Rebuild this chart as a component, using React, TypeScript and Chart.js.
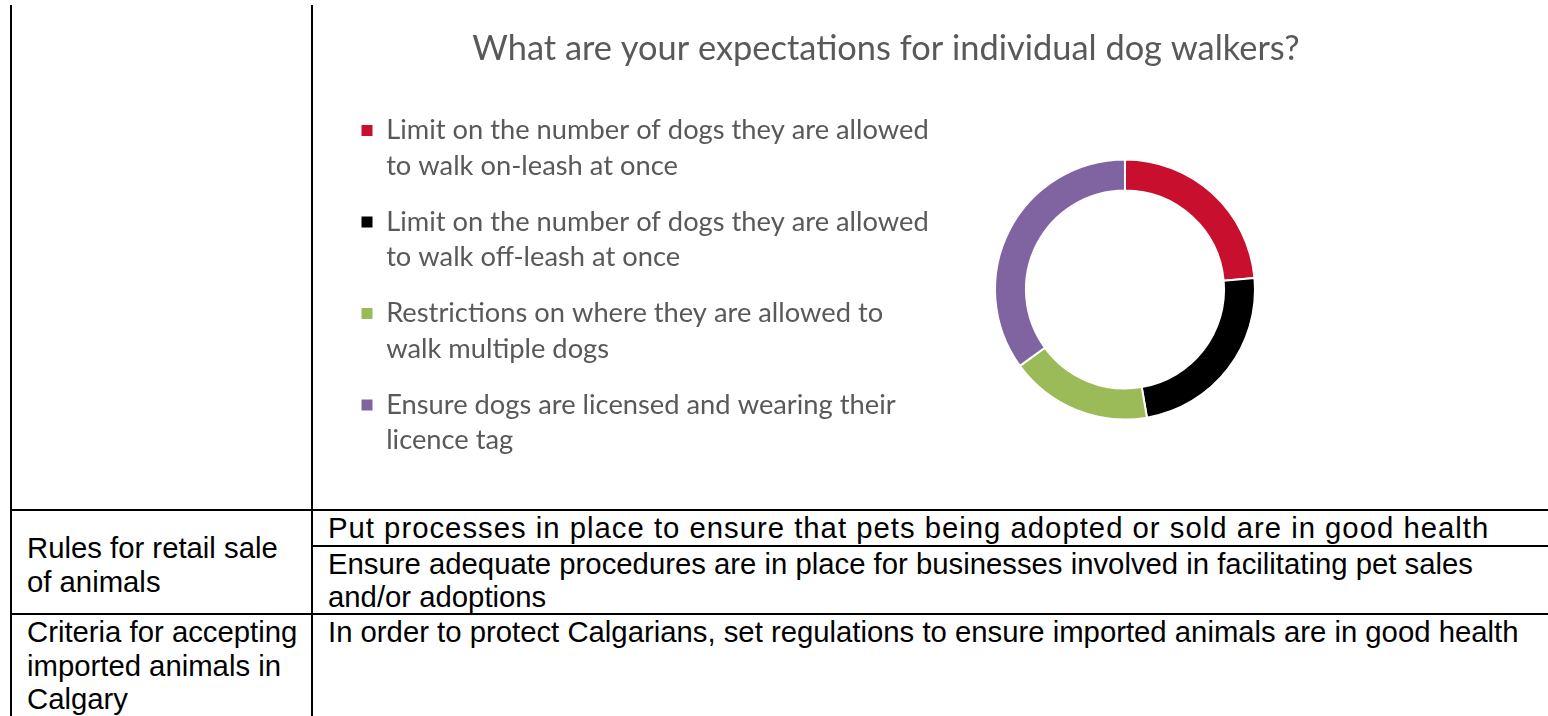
import React, { useEffect, useRef } from 'react';
import { Chart, registerables } from 'chart.js';

Chart.register(...registerables);

// ---------- chart data ----------
const TITLE = 'What are your expectations for individual dog walkers?';
const CATEGORIES: string[][] = [
  ['Limit on the number of dogs they are allowed', 'to walk on-leash at once'],
  ['Limit on the number of dogs they are allowed', 'to walk off-leash at once'],
  ['Restrictions on where they are allowed to', 'walk multiple dogs'],
  ['Ensure dogs are licensed and wearing their', 'licence tag'],
];
const VALUES: number[] = [23.6, 23.7, 17.7, 35.0];
const COLORS: string[] = ['#C8102E', '#000000', '#9BBB59', '#8064A2'];
const TEXT_GREY = '#595959';

// ---------- surrounding table text ----------
const LEFT_CELLS: string[][] = [
  ['Rules for retail sale', 'of animals'],
  ['Criteria for accepting', 'imported animals in', 'Calgary'],
];
const RIGHT_CELLS: string[][] = [
  ['Put processes in place to ensure that pets being adopted or sold are in good health'],
  ['Ensure adequate procedures are in place for businesses involved in facilitating pet sales', 'and/or adoptions'],
  ['In order to protect Calgarians, set regulations to ensure imported animals are in good health'],
];

const CHART_FONT = 'Lato';
const TABLE_FONT = '"Liberation Sans", Arial, sans-serif';

function measure(text: string, family: string, size: number): number {
  const c = document.createElement('canvas').getContext('2d')!;
  c.font = `${size}px ${family}`;
  return c.measureText(text).width;
}

function fitSize(text: string, family: string, target: number): number {
  return Math.round(((100 * target) / measure(text, family, 100)) * 10) / 10;
}

const line = (left: number, top: number, width: number, height: number): React.CSSProperties => ({
  position: 'absolute', left, top, width, height, background: '#000',
});

const textStyle = (left: number, top: number, extra: React.CSSProperties = {}): React.CSSProperties => ({
  position: 'absolute', left, top, fontFamily: TABLE_FONT, fontSize: 29.3, lineHeight: '33.5px',
  color: '#000', whiteSpace: 'pre', ...extra,
});

export default function App() {
  const ref = useRef<HTMLCanvasElement>(null);

  useEffect(() => {
    const canvas = ref.current;
    if (!canvas) return;
    const W = 1234;
    const H = 509;
    const padL = 27;
    const centreX = 811;
    const centreY = 289.5;
    const T = fitSize(TITLE, CHART_FONT, 828);
    const F = fitSize(CATEGORIES[0][0], CHART_FONT, 542);
    const legendLH = 35.5;
    const legendPad = 20.5;
    const boxW = 11;
    // chart area (and legend box) share the vertical span centred on the doughnut centre
    const padTop = 75;
    const padBottom = H - (2 * centreY - padTop);
    const longest = Math.max(
      ...CATEGORIES.map((c) => measure(c.reduce((a, b) => (a.length > b.length ? a : b)), CHART_FONT, F))
    );
    const legendW = legendPad + boxW + F / 2 + longest + 10;
    const padR = W - (2 * centreX - padL - legendW);

    const titlePlugin = {
      id: 'centredTitle',
      afterDraw(ch: any) {
        const ctx = ch.ctx as CanvasRenderingContext2D;
        ctx.save();
        ctx.font = `${T}px ${CHART_FONT}`;
        ctx.fillStyle = TEXT_GREY;
        ctx.textAlign = 'center';
        ctx.textBaseline = 'alphabetic';
        ctx.fillText(TITLE, 572, 60);
        ctx.restore();
      },
    };

    const chart = new Chart(canvas, {
      type: 'doughnut',
      data: {
        labels: CATEGORIES as any,
        datasets: [
          {
            data: VALUES,
            backgroundColor: COLORS,
            borderColor: '#ffffff',
            borderWidth: 2,
            radius: 130,
            cutout: '76.2%',
          } as any,
        ],
      },
      options: {
        responsive: false,
        animation: false,
        events: [],
        layout: { padding: { left: padL, right: padR, top: padTop, bottom: padBottom } },
        plugins: {
          tooltip: { enabled: false },
          title: { display: false },
          legend: {
            display: true,
            position: 'left',
            align: 'center',
            maxWidth: 900,
            labels: {
              boxWidth: boxW,
              boxHeight: boxW,
              padding: legendPad,
              color: TEXT_GREY,
              font: { family: CHART_FONT, size: F, lineHeight: legendLH / F },
              generateLabels: (ch: any) =>
                (ch.data.labels as string[][]).map((lbl, i) => ({
                  text: lbl,
                  fillStyle: COLORS[i],
                  strokeStyle: COLORS[i],
                  lineWidth: 0,
                  fontColor: TEXT_GREY,
                  hidden: false,
                  index: i,
                })),
            },
          },
        },
      } as any,
      plugins: [titlePlugin],
    });
    return () => chart.destroy();
  }, []);

  return (
    <div style={{ position: 'absolute', left: 0, top: 0, width: 1548, height: 716, overflow: 'hidden', background: '#fff' }}>
      <canvas ref={ref} width={1234} height={509} style={{ position: 'absolute', left: 314, top: 0 }} />
      {/* table rules */}
      <div style={line(10, 5, 2, 711)} />
      <div style={line(311, 5, 2, 711)} />
      <div style={line(10, 509, 1538, 2)} />
      <div style={line(311, 545, 1237, 2)} />
      <div style={line(10, 613, 1538, 2)} />
      {/* table text */}
      <div style={textStyle(27, 531)}>{LEFT_CELLS[0].join('\n')}</div>
      <div style={textStyle(27, 615)}>{LEFT_CELLS[1].join('\n')}</div>
      <div style={textStyle(328, 511, { letterSpacing: '1px' })}>{RIGHT_CELLS[0].join('\n')}</div>
      <div style={textStyle(328, 546.5)}>{RIGHT_CELLS[1].join('\n')}</div>
      <div style={textStyle(328, 615)}>{RIGHT_CELLS[2].join('\n')}</div>
    </div>
  );
}
